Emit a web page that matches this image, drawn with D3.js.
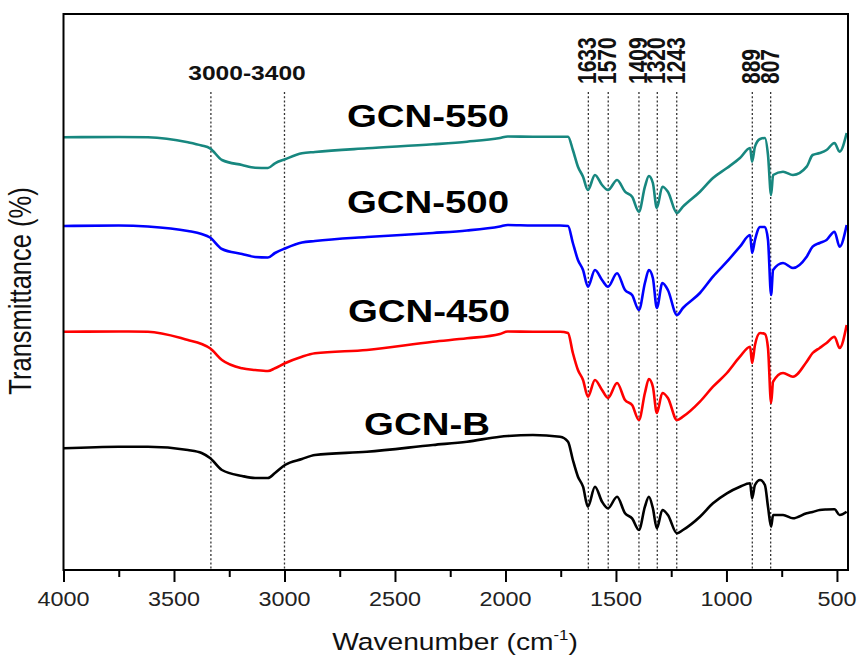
<!DOCTYPE html>
<html>
<head>
<meta charset="utf-8">
<script src="https://cdn.jsdelivr.net/npm/d3@7"></script>
<style>
  html, body { margin: 0; padding: 0; background: #fff; }
  svg { display: block; font-family: Arial, "Liberation Sans", Helvetica, sans-serif; }
</style>
</head>
<body>
<svg id="chart" width="857" height="655"></svg>
<script>
// ---- data ----
const wavenumbers = [4000, 3750, 3618, 3437, 3375, 3337, 3283, 3192, 3133, 3075, 3043, 2998, 2921, 2862, 2627, 2328, 2174, 2025, 1990, 1876, 1753, 1717, 1695, 1672, 1649, 1627, 1595, 1563, 1536, 1495, 1459, 1427, 1396, 1369, 1351, 1333, 1315, 1290, 1265, 1224, 1197, 1120, 1061, 998, 939, 893, 884, 871, 848, 826, 812, 798, 789, 744, 699, 637, 610, 578, 547, 511, 488, 456];

const gcn550 = [432.7, 433, 432.7, 427.7, 424.5, 421.7, 410, 405, 402.3, 402, 406.7, 410.7, 416.7, 418, 421.7, 425.7, 428.3, 432, 433.5, 433.3, 433.3, 433.3, 420, 403.3, 393.3, 380, 395, 385, 380, 390, 378.3, 373.3, 358.3, 383.3, 394, 387, 362, 383.3, 378.3, 357, 363.3, 378.3, 392, 402, 412, 422, 408.3, 423.3, 431, 432, 415, 375, 395, 398.3, 395, 403.3, 415, 417, 420, 427, 418.3, 437];

const gcn500 = [344, 344.5, 343.5, 339, 336, 332.5, 321, 316, 313, 312.5, 317, 321.5, 327.5, 329, 333, 337, 339.5, 343.5, 345, 344.5, 344.5, 344, 327, 310, 300, 283.3, 300, 290, 283.3, 296.7, 280, 275, 260, 287, 300, 292, 262, 287, 280, 255, 262, 277, 293.3, 308.3, 323.3, 335, 317, 330, 343, 343, 330, 275, 300, 307, 302, 313.3, 323.3, 327, 330, 338.3, 323.3, 345];

const gcn450 = [238.3, 238.5, 238.3, 230, 226, 221.7, 210, 201.7, 200, 199, 201.7, 206.7, 213.3, 216.7, 220, 228.3, 231.7, 236, 238.5, 238.3, 238.3, 237, 217, 200, 190, 173.3, 190, 180, 172, 187, 170, 165, 150, 177, 191, 183.3, 157, 177, 172, 150, 153.3, 168.3, 183.3, 197, 213.3, 223.3, 207, 225, 237, 236, 222, 167, 188.3, 197, 193.3, 208.3, 217, 222, 227, 233.3, 222, 245];

const gcnB = [121.7, 123.3, 123.3, 120, 117, 112, 100, 94, 92, 92, 97, 105, 111, 115, 118.3, 125, 128.3, 133.3, 134, 135, 133.3, 128.3, 110, 93.3, 83.3, 63.3, 83.3, 68.3, 61.7, 73.3, 56.7, 51.7, 40, 63.3, 73.3, 61.7, 41.7, 60, 55, 36.7, 40, 53.3, 66.7, 76.7, 83.3, 86.7, 71.7, 85, 90, 85, 63.3, 43.3, 55, 55, 51.7, 56.7, 58, 60, 60.5, 60.7, 55, 58.3];

const seriesNames = ["GCN-550", "GCN-500", "GCN-450", "GCN-B"];
const seriesColors = ["#17877f", "#0000ff", "#ff0000", "#000000"];
const seriesLabelY = [443.3, 357, 248.5, 135];   // label baseline, in data units
const seriesLabelX = [428, 428, 429, 427];      // label centre, in pixels

const xTicksMajor = [4000, 3500, 3000, 2500, 2000, 1500, 1000, 500];
const xTicksMinor = [3750, 3250, 2750, 2250, 1750, 1250, 750];

const bandPositions = [3333, 3000];
const bandLabel = "3000-3400";
const peakPositions = [1625, 1535, 1396, 1313, 1225, 883, 800];
const peakLabels = ["1633", "1570", "1409", "1320", "1243", "889", "807"];

// ---- layout ----
const svg = d3.select("#chart");
const L = 63.5, R = 848, T = 14, B = 570;
const SX = 1.2; // horizontal stretch of the original figure

const x = d3.scaleLinear().domain([4000, 450]).range([L, R]);
const y = d3.scaleLinear().domain([0, 556]).range([B, T]);

// stretched text helper
function label(g, txt, px, py, opts) {
  const rot = opts.rotate ? " rotate(-90)" : "";
  return g.append("text")
    .attr("transform", `translate(${px},${py}) scale(${SX},1)${rot}`)
    .attr("text-anchor", opts.anchor || "middle")
    .attr("font-size", opts.size)
    .attr("font-weight", opts.weight || "normal")
    .attr("fill", opts.fill || "#111")
    .text(txt);
}

// dotted reference lines
const refG = svg.append("g");
bandPositions.concat(peakPositions).forEach(w => {
  refG.append("line")
    .attr("x1", x(w)).attr("x2", x(w))
    .attr("y1", 92).attr("y2", B)
    .attr("stroke", "#333").attr("stroke-width", 1.3)
    .attr("stroke-dasharray", "2,2.2");
});

// curves
const line = d3.line()
  .x((d, i) => x(wavenumbers[i]))
  .y(d => y(d))
  .curve(d3.curveMonotoneX);

const allSeries = [gcn550, gcn500, gcn450, gcnB];
allSeries.forEach((s, k) => {
  svg.append("path")
    .attr("d", line(s))
    .attr("fill", "none")
    .attr("stroke", seriesColors[k])
    .attr("stroke-width", 2.6)
    .attr("stroke-linejoin", "round");
});

// frame
svg.append("rect")
  .attr("x", L).attr("y", T)
  .attr("width", R - L).attr("height", B - T)
  .attr("fill", "none").attr("stroke", "#000").attr("stroke-width", 2);

// bottom axis
const axG = svg.append("g").attr("transform", `translate(0,${B})`);
axG.call(d3.axisBottom(x).tickValues(xTicksMajor).tickSize(12).tickFormat(() => ""));
axG.select(".domain").remove();
axG.selectAll(".tick line").attr("stroke", "#000").attr("stroke-width", 2);
const axMinor = svg.append("g").attr("transform", `translate(0,${B})`);
axMinor.call(d3.axisBottom(x).tickValues(xTicksMinor).tickSize(7).tickFormat(() => ""));
axMinor.select(".domain").remove();
axMinor.selectAll(".tick line").attr("stroke", "#000").attr("stroke-width", 2);

const tickLabG = svg.append("g");
xTicksMajor.forEach(t => {
  label(tickLabG, String(t), x(t), 606, { size: 19.5, fill: "#222" });
});

// axis titles
const xt = svg.append("text")
  .attr("transform", `translate(455,650) scale(${SX},1)`)
  .attr("text-anchor", "middle")
  .attr("font-size", 23.5)
  .attr("fill", "#111");
xt.append("tspan").text("Wavenumber (cm");
xt.append("tspan").attr("font-size", 14).attr("dy", -10).text("-1");
xt.append("tspan").attr("dy", 10).text(")");

label(svg, "Transmittance (%)", 31, 291, { size: 25.5, rotate: true, fill: "#111" });

// annotation labels
label(svg, bandLabel, 247, 80, { size: 20.5, weight: "bold" });
peakPositions.forEach((w, i) => {
  label(svg, peakLabels[i], x(w) + 8, 84, { size: 21, weight: "bold", rotate: true, anchor: "start" });
});

// series labels
seriesNames.forEach((n, k) => {
  label(svg, n, seriesLabelX[k], y(seriesLabelY[k]), { size: 32, weight: "bold", fill: "#000" });
});
</script>
</body>
</html>
